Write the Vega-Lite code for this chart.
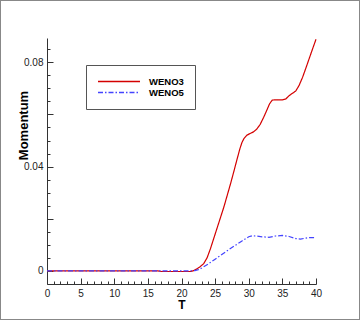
{
  "$schema": "https://vega.github.io/schema/vega-lite/v6.json",
  "width": 360,
  "height": 320,
  "autosize": "none",
  "padding": 0,
  "background": "white",
  "config": {
    "view": {"stroke": "#888888", "strokeWidth": 2},
    "font": "Liberation Sans"
  },
  "data": {
    "values": [
      {"T": 0, "v": 0, "s": "WENO3"},
      {"T": 5, "v": 0, "s": "WENO3"},
      {"T": 10, "v": 0, "s": "WENO3"},
      {"T": 15, "v": 0, "s": "WENO3"},
      {"T": 16.5, "v": 0, "s": "WENO3"},
      {"T": 17, "v": -0.0002, "s": "WENO3"},
      {"T": 20, "v": -0.0002, "s": "WENO3"},
      {"T": 21.3, "v": -0.0002, "s": "WENO3"},
      {"T": 21.8, "v": 0.0001, "s": "WENO3"},
      {"T": 22.3, "v": 0.0008, "s": "WENO3"},
      {"T": 22.8, "v": 0.0017, "s": "WENO3"},
      {"T": 23.3, "v": 0.0028, "s": "WENO3"},
      {"T": 23.8, "v": 0.005, "s": "WENO3"},
      {"T": 24.3, "v": 0.0085, "s": "WENO3"},
      {"T": 24.8, "v": 0.0125, "s": "WENO3"},
      {"T": 25.3, "v": 0.0165, "s": "WENO3"},
      {"T": 25.8, "v": 0.0205, "s": "WENO3"},
      {"T": 26.3, "v": 0.0245, "s": "WENO3"},
      {"T": 26.8, "v": 0.029, "s": "WENO3"},
      {"T": 27.3, "v": 0.0335, "s": "WENO3"},
      {"T": 27.8, "v": 0.0383, "s": "WENO3"},
      {"T": 28.3, "v": 0.0432, "s": "WENO3"},
      {"T": 28.7, "v": 0.047, "s": "WENO3"},
      {"T": 29.0, "v": 0.0493, "s": "WENO3"},
      {"T": 29.3, "v": 0.0508, "s": "WENO3"},
      {"T": 29.7, "v": 0.052, "s": "WENO3"},
      {"T": 30.2, "v": 0.0527, "s": "WENO3"},
      {"T": 30.7, "v": 0.0533, "s": "WENO3"},
      {"T": 31.2, "v": 0.0544, "s": "WENO3"},
      {"T": 31.7, "v": 0.0562, "s": "WENO3"},
      {"T": 32.2, "v": 0.0588, "s": "WENO3"},
      {"T": 32.7, "v": 0.0617, "s": "WENO3"},
      {"T": 33.1, "v": 0.0641, "s": "WENO3"},
      {"T": 33.5, "v": 0.0655, "s": "WENO3"},
      {"T": 34, "v": 0.0656, "s": "WENO3"},
      {"T": 35, "v": 0.0656, "s": "WENO3"},
      {"T": 35.5, "v": 0.0659, "s": "WENO3"},
      {"T": 36, "v": 0.0672, "s": "WENO3"},
      {"T": 36.5, "v": 0.0681, "s": "WENO3"},
      {"T": 37, "v": 0.069, "s": "WENO3"},
      {"T": 37.5, "v": 0.0712, "s": "WENO3"},
      {"T": 38, "v": 0.0742, "s": "WENO3"},
      {"T": 38.5, "v": 0.0778, "s": "WENO3"},
      {"T": 39, "v": 0.0815, "s": "WENO3"},
      {"T": 39.5, "v": 0.0852, "s": "WENO3"},
      {"T": 40, "v": 0.0888, "s": "WENO3"},
      {"T": 0, "v": 0, "s": "WENO5"},
      {"T": 10, "v": 0, "s": "WENO5"},
      {"T": 20, "v": 0, "s": "WENO5"},
      {"T": 22, "v": 0.0001, "s": "WENO5"},
      {"T": 22.5, "v": 0.0005, "s": "WENO5"},
      {"T": 23, "v": 0.0011, "s": "WENO5"},
      {"T": 24, "v": 0.0027, "s": "WENO5"},
      {"T": 25, "v": 0.0045, "s": "WENO5"},
      {"T": 26, "v": 0.0063, "s": "WENO5"},
      {"T": 27, "v": 0.0081, "s": "WENO5"},
      {"T": 28, "v": 0.0098, "s": "WENO5"},
      {"T": 29, "v": 0.0115, "s": "WENO5"},
      {"T": 30, "v": 0.0131, "s": "WENO5"},
      {"T": 30.5, "v": 0.0135, "s": "WENO5"},
      {"T": 31, "v": 0.0134, "s": "WENO5"},
      {"T": 32, "v": 0.0131, "s": "WENO5"},
      {"T": 33, "v": 0.0129, "s": "WENO5"},
      {"T": 34, "v": 0.0134, "s": "WENO5"},
      {"T": 35, "v": 0.0136, "s": "WENO5"},
      {"T": 36, "v": 0.0132, "s": "WENO5"},
      {"T": 37, "v": 0.0124, "s": "WENO5"},
      {"T": 37.7, "v": 0.0122, "s": "WENO5"},
      {"T": 38.5, "v": 0.0126, "s": "WENO5"},
      {"T": 39, "v": 0.0128, "s": "WENO5"},
      {"T": 40, "v": 0.0128, "s": "WENO5"}
    ]
  },
  "mark": {"type": "line", "strokeWidth": 1.2},
  "encoding": {
    "x": {
      "field": "T",
      "type": "quantitative",
      "scale": {"domain": [0, 40], "range": [47, 316], "nice": false},
      "axis": {
        "title": "T",
        "titleFont": "Liberation Sans",
        "titleFontSize": 12,
        "titleFontWeight": "bold",
        "titleColor": "black",
        "titleX": 181.5,
        "titleY": 15,
        "titleBaseline": "top",
        "titleAlign": "center",
        "offset": -36,
        "values": [0,1,2,3,4,5,6,7,8,9,10,11,12,13,14,15,16,17,18,19,20,21,22,23,24,25,26,27,28,29,30,31,32,33,34,35,36,37,38,39,40],
        "labelExpr": "datum.value % 5 == 0 ? datum.label : ''",
        "tickSize": {"condition": {"test": "datum.value % 5 == 0", "value": -6}, "value": -3},
        "tickColor": "#333",
        "domainColor": "#333",
        "grid": false,
        "labelFont": "Liberation Sans",
        "labelFontSize": 10,
        "labelColor": "#222",
        "labelPadding": 10,
        "labelFlush": false
      }
    },
    "y": {
      "field": "v",
      "type": "quantitative",
      "scale": {"domain": [-0.005, 0.0893], "range": [284, 38], "nice": false, "zero": false},
      "axis": {
        "title": "Momentum",
        "titleFont": "Liberation Sans",
        "titleFontSize": 13,
        "titleFontWeight": "bold",
        "titleColor": "black",
        "titleX": -24,
        "titleY": 125,
        "titleAngle": -90,
        "titleAlign": "center",
        "titleBaseline": "middle",
        "offset": -47,
        "values": [0,0.005,0.01,0.015,0.02,0.025,0.03,0.035,0.04,0.045,0.05,0.055,0.06,0.065,0.07,0.075,0.08,0.085],
        "labelExpr": "datum.value == 0 ? '0' : (abs(datum.value - 0.04) < 1e-9 ? '0.04' : (abs(datum.value - 0.08) < 1e-9 ? '0.08' : ''))",
        "tickSize": {"condition": {"test": "abs(datum.value * 50 - round(datum.value * 50)) < 1e-6", "value": -6}, "value": -3},
        "tickColor": "#333",
        "domainColor": "#333",
        "grid": false,
        "labelFont": "Liberation Sans",
        "labelFontSize": 10,
        "labelColor": "#222",
        "labelPadding": 10,
        "labelFlush": false
      }
    },
    "color": {
      "field": "s",
      "type": "nominal",
      "scale": {"domain": ["WENO3", "WENO5"], "range": ["#d40000", "#4444ff"]},
      "legend": {
        "title": null,
        "orient": "none",
        "legendX": 86,
        "legendY": 65,
        "strokeColor": "#555",
        "padding": 11,
        "symbolType": "stroke",
        "symbolSize": 1764,
        "symbolStrokeWidth": 1.3,
        "clipHeight": 11,
        "labelFont": "Liberation Sans",
        "labelFontSize": 9.5,
        "labelFontWeight": "bold",
        "labelColor": "black",
        "labelOffset": 8,
        "rowPadding": 0,
        "fillColor": "white"
      }
    },
    "strokeDash": {
      "field": "s",
      "type": "nominal",
      "scale": {"domain": ["WENO3", "WENO5"], "range": [[1, 0], [5, 2, 1.5, 2]]},
      "legend": {"title": null}
    }
  }
}
